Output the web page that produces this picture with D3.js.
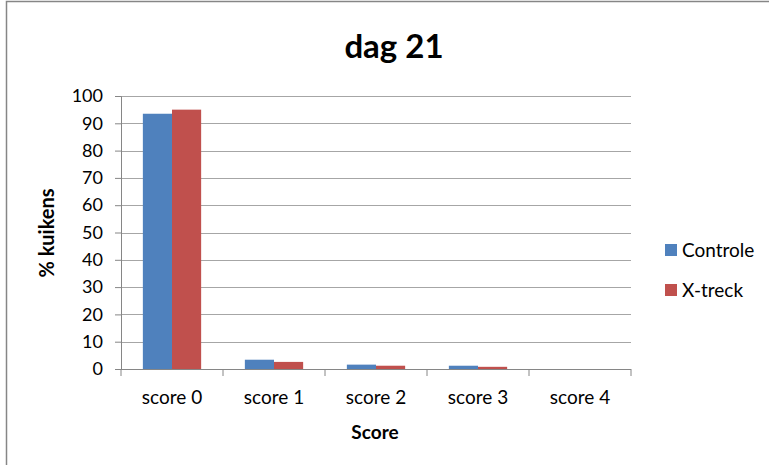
<!DOCTYPE html>
<html>
<head>
<meta charset="utf-8">
<script src="https://cdn.jsdelivr.net/npm/d3@7"></script>
<style>
  body { margin: 0; background: #fff; }
  text { font-family: Lato, "Open Sans", sans-serif; fill: #000; }
</style>
</head>
<body>
<div id="chart"></div>
<script>
const categories = ['score 0', 'score 1', 'score 2', 'score 3', 'score 4'];
const seriesNames = ['Controle', 'X-treck'];
const controle = [93.5, 3.4, 1.6, 1.2, 0];
const xtreck = [95.0, 2.6, 1.2, 0.8, 0];
const yTicks = [0, 10, 20, 30, 40, 50, 60, 70, 80, 90, 100];
const colors = ['#4F81BD', '#C0504D'];

const W = 769, H = 465;
const margin = {top: 96, left: 121, right: 138, bottom: 96};
const w = W - margin.left - margin.right,
  h = H - margin.top - margin.bottom;

const svg = d3.select('#chart').append('svg')
  .attr('width', W).attr('height', H);

// outer chart border
svg.append('rect')
  .attr('x', 6.5).attr('y', 1.5)
  .attr('width', W).attr('height', H)
  .attr('fill', 'none').attr('stroke', '#868686').attr('stroke-width', 1.5);

const g = svg.append('g')
  .attr('transform', 'translate(' + margin.left + ',' + margin.top + ')');

const y = d3.scaleLinear().domain([0, 100]).range([h, 0]);
const x = d3.scaleBand().domain(categories).range([0, w]);
// Excel gap width 150%
const barW = x.bandwidth() / 3.5;

// gridlines
g.selectAll('.grid').data(yTicks.slice(1)).enter().append('line')
  .attr('x1', 0).attr('x2', w)
  .attr('y1', d => Math.round(y(d)) + 0.5).attr('y2', d => Math.round(y(d)) + 0.5)
  .attr('stroke', '#a6a6a6').attr('stroke-width', 1.2);

const data = categories.map((c, i) => ({cat: c, vals: [controle[i], xtreck[i]]}));

g.selectAll('.cat').data(data).enter().append('g')
  .attr('transform', d => 'translate(' + (x(d.cat) + barW * 0.75) + ',0)')
  .selectAll('rect').data(d => d.vals).enter().append('rect')
  .attr('x', (d, i) => i * barW)
  .attr('y', d => y(d))
  .attr('width', barW)
  .attr('height', d => h - y(d))
  .attr('fill', (d, i) => colors[i]);

// y axis
const yAxis = g.append('g').call(d3.axisLeft(y).tickValues(yTicks).tickSize(6).tickPadding(12));
yAxis.select('.domain').attr('stroke', '#868686');
yAxis.selectAll('.tick line').attr('stroke', '#868686');
yAxis.selectAll('text').attr('font-size', 18).style('font-family', 'Lato, sans-serif');

// x axis with ticks between categories
const xAxis = g.append('g').attr('transform', 'translate(0,' + h + ')');
xAxis.append('line').attr('x1', 0).attr('x2', w).attr('y1', 0.5).attr('y2', 0.5)
  .attr('stroke', '#868686');
const bounds = [0].concat(categories.map(c => x(c) + x.bandwidth()));
xAxis.selectAll('.tk').data(bounds).enter().append('line')
  .attr('x1', d => d).attr('x2', d => d).attr('y1', 0).attr('y2', 7)
  .attr('stroke', '#868686');
xAxis.selectAll('.lbl').data(categories).enter().append('text')
  .attr('x', d => x(d) + x.bandwidth() / 2)
  .attr('y', 35)
  .attr('text-anchor', 'middle')
  .attr('font-size', 19)
  .text(d => d);

// titles
svg.append('text').attr('x', 394).attr('y', 58).attr('text-anchor', 'middle')
  .attr('font-size', 33).attr('font-weight', 'bold').text('dag 21');
svg.append('text').attr('x', 375).attr('y', 439).attr('text-anchor', 'middle')
  .attr('font-size', 19).attr('font-weight', 'bold').text('Score');
svg.append('text')
  .attr('transform', 'translate(54,233) rotate(-90)')
  .attr('text-anchor', 'middle')
  .attr('font-size', 20).attr('font-weight', 'bold').text('% kuikens');

// legend
const leg = svg.append('g').attr('transform', 'translate(665,244)');
const li = leg.selectAll('g').data(seriesNames).enter().append('g')
  .attr('transform', (d, i) => 'translate(0,' + i * 40 + ')');
li.append('rect').attr('width', 12).attr('height', 12).attr('fill', (d, i) => colors[i]);
li.append('text').attr('x', 17).attr('y', 13).attr('font-size', 19).text(d => d);
</script>
</body>
</html>
